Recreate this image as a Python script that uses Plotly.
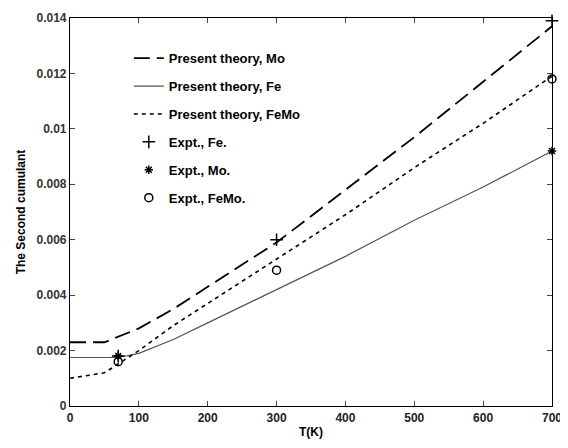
import plotly.graph_objects as go

# Theory curves
T_fe = [0, 50, 100, 150, 200, 250, 300, 400, 500, 600, 700]
C2_fe = [0.0023, 0.0023, 0.0028, 0.0035, 0.0043, 0.0051, 0.0059, 0.0078, 0.0097, 0.0117, 0.0137]

T_mo = [0, 70, 100, 150, 200, 250, 300, 400, 500, 600, 700]
C2_mo = [0.00175, 0.00175, 0.0019, 0.0024, 0.0030, 0.0036, 0.0042, 0.0054, 0.0067, 0.0079, 0.0092]

T_femo = [0, 50, 100, 150, 200, 250, 300, 400, 500, 600, 700]
C2_femo = [0.0010, 0.0012, 0.0020, 0.0029, 0.0037, 0.0045, 0.0053, 0.0069, 0.0086, 0.0102, 0.0119]

# Experimental points
Tx_fe = [70, 300, 700]
C2x_fe = [0.0018, 0.0060, 0.0139]
Tx_mo = [70, 700]
C2x_mo = [0.0018, 0.0092]
Tx_femo = [70, 300, 700]
C2x_femo = [0.0016, 0.0049, 0.0118]

x_ticks = [0, 100, 200, 300, 400, 500, 600, 700]
y_ticks = [0, 0.002, 0.004, 0.006, 0.008, 0.01, 0.012, 0.014]
y_ticktext = ["0", "0.002", "0.004", "0.006", "0.008", "0.01", "0.012", "0.014"]

fig = go.Figure()
fig.add_trace(go.Scatter(x=T_fe, y=C2_fe, mode="lines", name="Present theory, Mo",
                         legendgroup="a",
                         line=dict(color="black", width=1.8, dash="16px,7px")))
fig.add_trace(go.Scatter(x=T_mo, y=C2_mo, mode="lines", name="Present theory, Fe",
                         legendgroup="b",
                         line=dict(color="#555555", width=1.2)))
fig.add_trace(go.Scatter(x=T_femo, y=C2_femo, mode="lines", name="Present theory, FeMo",
                         legendgroup="c",
                         line=dict(color="black", width=1.6, dash="4px,4px")))
fig.add_trace(go.Scatter(x=Tx_fe, y=C2x_fe, mode="markers", name="Expt., Fe.",
                         legendgroup="d", cliponaxis=False,
                         marker=dict(symbol="cross-thin", size=9, color="black",
                                     line=dict(color="black", width=1.5))))
fig.add_trace(go.Scatter(x=Tx_mo, y=C2x_mo, mode="markers", name="Expt., Mo.",
                         legendgroup="e", cliponaxis=False,
                         marker=dict(symbol="asterisk", size=7, color="black",
                                     line=dict(color="black", width=1.5))))
fig.add_trace(go.Scatter(x=Tx_femo, y=C2x_femo, mode="markers", name="Expt., FeMo.",
                         legendgroup="f", cliponaxis=False,
                         marker=dict(symbol="circle-open", size=8, color="black",
                                     line=dict(color="black", width=1.5))))

fig.update_layout(
    width=560, height=440,
    margin=dict(l=62, r=16, t=10, b=42, autoexpand=False),
    paper_bgcolor="white", plot_bgcolor="white",
    font=dict(family="Liberation Sans", size=12, color="black"),
    showlegend=True,
    legend=dict(x=0.122, y=0.935, xanchor="left", yanchor="top",
                bgcolor="rgba(0,0,0,0)", borderwidth=0,
                tracegroupgap=8,
                font=dict(size=13, weight="bold", color="black")),
)
fig.update_xaxes(range=[0, 700], tickvals=x_ticks, ticks="inside", ticklen=5,
                 showline=True, linecolor="black", linewidth=1.2, mirror="ticks",
                 showgrid=False, zeroline=False, ticklabeloverflow="allow",
                 tickfont=dict(size=12, weight="bold", color="#222"),
                 title=dict(text="T(K)", font=dict(size=12, weight="bold"), standoff=4))
fig.update_yaxes(range=[0, 0.014], tickvals=y_ticks, ticktext=y_ticktext,
                 ticks="inside", ticklen=5,
                 showline=True, linecolor="black", linewidth=1.2, mirror="ticks",
                 showgrid=False, zeroline=False, ticklabeloverflow="allow",
                 tickfont=dict(size=12, weight="bold", color="#333"),
                 title=dict(text="The Second cumulant", font=dict(size=12, weight="bold"),
                            standoff=8))

fig.write_html("out.html")
